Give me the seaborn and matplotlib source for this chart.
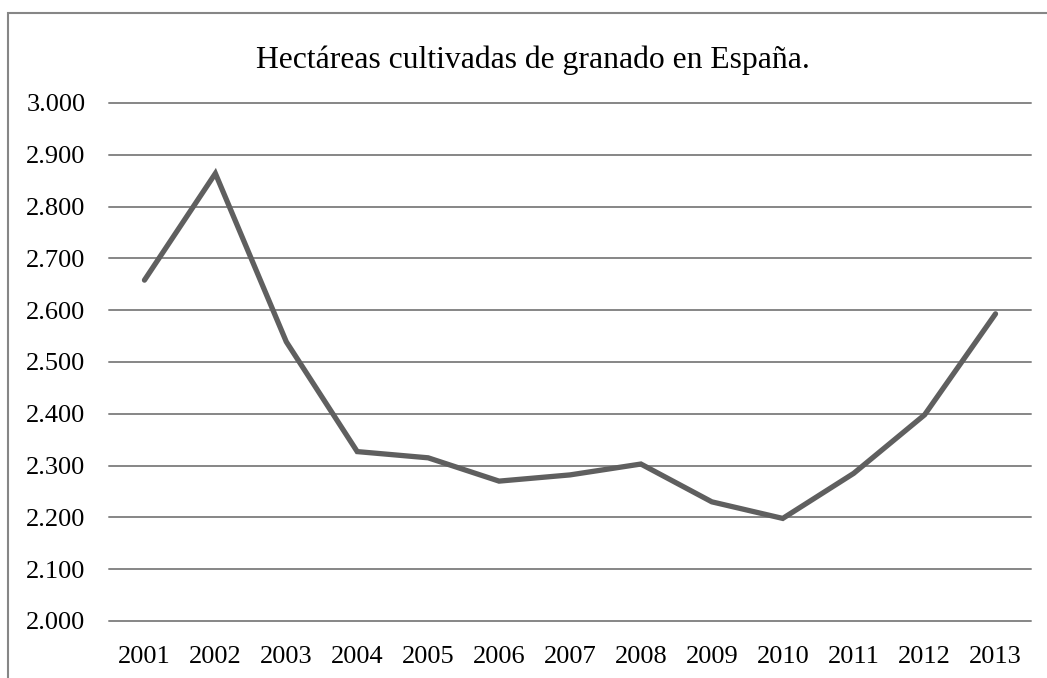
import pandas as pd
import matplotlib
matplotlib.use("Agg")
import matplotlib.pyplot as plt
import seaborn as sns
from matplotlib.ticker import FuncFormatter
from matplotlib.patches import Rectangle


years = [2001, 2002, 2003, 2004, 2005, 2006, 2007,
         2008, 2009, 2010, 2011, 2012, 2013]

hectareas = [2658, 2864, 2539, 2327, 2315, 2270, 2282,
             2303, 2230, 2198, 2285, 2398, 2593]

y_ticks = [2000, 2100, 2200, 2300, 2400, 2500,
           2600, 2700, 2800, 2900, 3000]

title = "Hectáreas cultivadas de granado en España."


df = pd.DataFrame({"Año": years, "Hectáreas": hectareas})


sns.set_theme(style="white")
plt.rcParams["font.family"] = ["Liberation Serif", "DejaVu Serif"]


fig = plt.figure(figsize=(10.47, 6.78), dpi=100)

ax = fig.add_axes([0.1041, 0.0841, 0.8806, 0.7640])


sns.lineplot(
    data=df,
    x="Año",
    y="Hectáreas",
    color="#5f5f5f",
    linewidth=3.8,
    solid_joinstyle="miter",
    ax=ax
)


ax.set_xlim(years[0] - 0.5, years[-1] + 0.5)
ax.set_ylim(y_ticks[0], y_ticks[-1])

ax.set_xticks(years)
ax.set_xticklabels([str(y) for y in years])
ax.set_yticks(y_ticks)

ax.yaxis.set_major_formatter(
    FuncFormatter(lambda v, p: f"{v:,.0f}".replace(",", "."))
)

ax.tick_params(axis="both", length=0, labelsize=19, colors="black")
ax.tick_params(axis="y", pad=17)
ax.tick_params(axis="x", pad=18)

ax.set_xlabel("")
ax.set_ylabel("")

ax.yaxis.grid(True, color="#868686", linewidth=1.4)
ax.xaxis.grid(False)
ax.set_axisbelow(True)

for line in ax.get_ygridlines():
    line.set_clip_on(False)

for spine in ax.spines.values():
    spine.set_visible(False)


# marco gris alrededor del grafico
fig.patches.append(
    Rectangle(
        (8 / 1047, -0.05),
        1.2,
        (678 - 13) / 678 + 0.05,
        transform=fig.transFigure,
        fill=False,
        edgecolor="#868686",
        linewidth=1.5
    )
)


fig.text(
    533 / 1047,
    (678 - 60) / 678,
    title,
    ha="center",
    va="center",
    fontsize=22.8,
    color="black"
)


fig.savefig("out.png", dpi=100, facecolor="white")
